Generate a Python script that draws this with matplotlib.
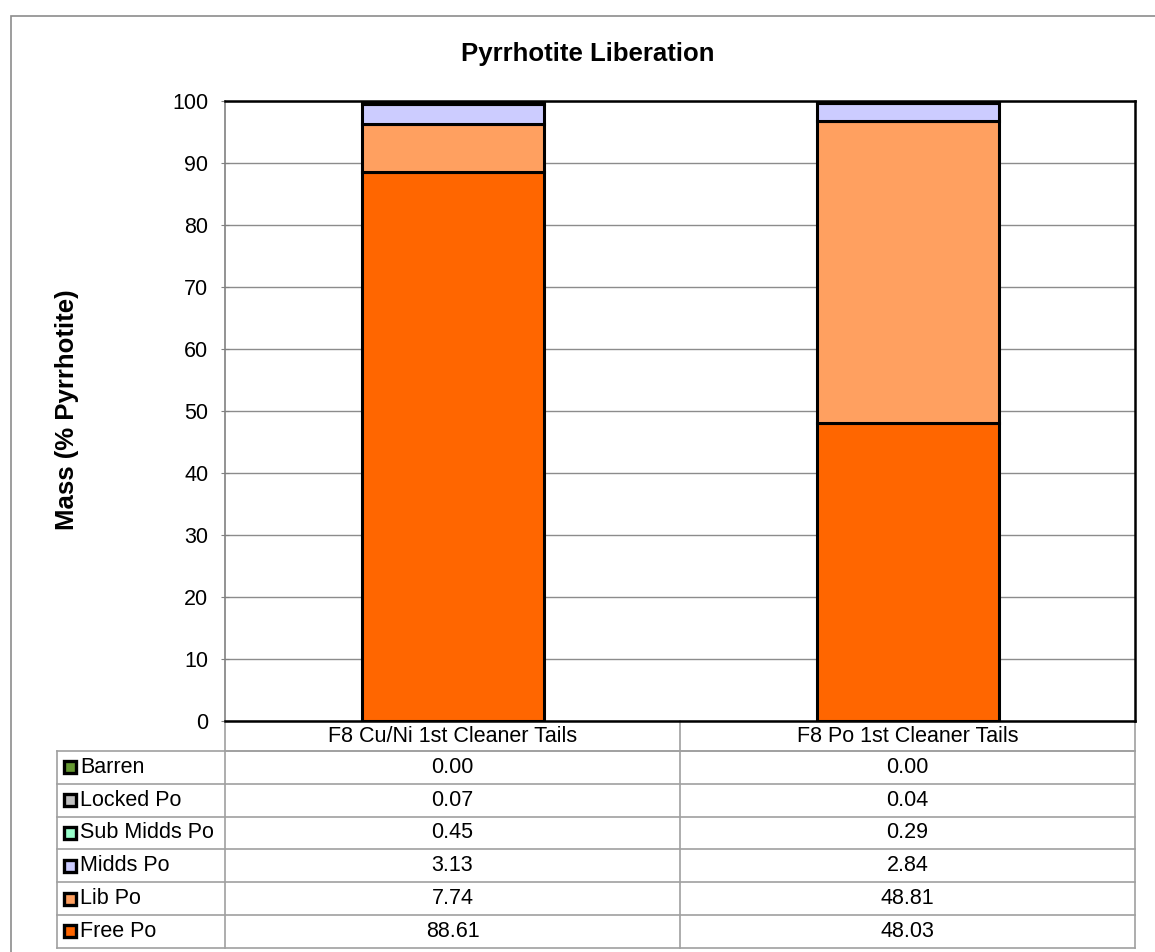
import numpy as np
import matplotlib
matplotlib.use("Agg")
import matplotlib.pyplot as plt
from matplotlib.patches import Rectangle

plt.rcParams['font.family'] = ['Liberation Sans', 'DejaVu Sans']

samples = ["F8 Cu/Ni 1st Cleaner Tails", "F8 Po 1st Cleaner Tails"]
classes = ["Free Po", "Lib Po", "Midds Po", "Sub Midds Po", "Locked Po", "Barren"]
colors = ["#FF6600", "#FFA060", "#CCCCFF", "#99FFCC", "#C0C0C0", "#669933"]
free_po = [88.61, 48.03]
lib_po = [7.74, 48.81]
midds_po = [3.13, 2.84]
sub_midds_po = [0.45, 0.29]
locked_po = [0.07, 0.04]
barren = [0.00, 0.00]
values = [free_po, lib_po, midds_po, sub_midds_po, locked_po, barren]

FS = 15.5

W, H = 1155, 952
fig = plt.figure(figsize=(W / 100, H / 100), dpi=100)

# outer chart frame
fig.patches.append(Rectangle((11 / W, -0.05), 1.2, 1 - 16 / H + 0.05,
                             transform=fig.transFigure, fill=False,
                             edgecolor="#8c8c8c", lw=1.2))

ax_l, ax_r, ax_t, ax_b = 225, 1135, 101, 721
ax = fig.add_axes([ax_l / W, 1 - ax_b / H, (ax_r - ax_l) / W, (ax_b - ax_t) / H])

x = np.arange(len(samples))
bottom = np.zeros(len(samples))
for name, col, vals in zip(classes, colors, values):
    ax.bar(x, vals, width=0.4, bottom=bottom, color=col, edgecolor="black",
           linewidth=2.2, zorder=3)
    bottom += np.array(vals)

ax.set_xlim(-0.5, 1.5)
ax.set_ylim(0, 100)
ax.set_yticks(np.arange(0, 101, 10))
ax.tick_params(axis="y", labelsize=FS, length=6, direction="inout",
               color="#808080", pad=9)
ax.set_xticks([])
ax.yaxis.grid(True, color="#8c8c8c", lw=1)
ax.set_axisbelow(True)
for s in ["top", "right", "bottom"]:
    ax.spines[s].set_color("black")
    ax.spines[s].set_linewidth(1.8)
ax.spines["left"].set_color("#808080")
ax.spines["left"].set_linewidth(1.2)

# helpers: pixel -> axes fraction
def fx(px):
    return (px - ax_l) / (ax_r - ax_l)

def fy(py):
    return (ax_b - py) / (ax_b - ax_t)

ax.set_ylabel("Mass (% Pyrrhotite)", fontsize=18.5, fontweight="bold")
ax.yaxis.set_label_coords(fx(79), fy(410))
fig.text(588 / W, 1 - 54 / H, "Pyrrhotite Liberation", ha="center", va="center",
         fontsize=18.5, fontweight="bold")

# data table below the axes
grid = "#a0a0a0"
row_h = 32.8
head_top, head_bot = 721, 751
row_edges = [head_bot + row_h * i for i in range(len(classes) + 1)]
tab_left, col_div = 57, 680
kw = dict(transform=ax.transAxes, clip_on=False, color=grid, lw=1.2)

# horizontal lines
ax.plot([fx(ax_l), fx(ax_r)], [fy(head_bot)] * 2, **kw)
for yy in row_edges:
    ax.plot([fx(tab_left), fx(ax_r)], [fy(yy)] * 2, **kw)
# vertical lines
ax.plot([fx(tab_left)] * 2, [fy(head_bot), fy(row_edges[-1])], **kw)
ax.plot([fx(ax_l)] * 2, [fy(head_top), fy(row_edges[-1])], **kw)
ax.plot([fx(col_div)] * 2, [fy(head_top), fy(row_edges[-1])], **kw)
ax.plot([fx(ax_r)] * 2, [fy(head_top), fy(row_edges[-1])], **kw)

col_centers = [(ax_l + col_div) / 2, (col_div + ax_r) / 2]
for cx, name in zip(col_centers, samples):
    ax.text(fx(cx), fy((head_top + head_bot) / 2 + 1), name, transform=ax.transAxes,
            ha="center", va="center", fontsize=FS)

# rows from top: Barren ... Free Po
for i, (name, col, vals) in enumerate(zip(classes[::-1], colors[::-1], values[::-1])):
    yc = row_edges[i] + row_h / 2
    ax.add_patch(Rectangle((fx(64), fy(yc + 6)), 12 / (ax_r - ax_l), 12 / (ax_b - ax_t),
                           transform=ax.transAxes, clip_on=False,
                           facecolor=col, edgecolor="black", lw=2.4))
    ax.text(fx(80), fy(yc), name, transform=ax.transAxes, ha="left", va="center",
            fontsize=FS)
    for cx, v in zip(col_centers, vals):
        ax.text(fx(cx), fy(yc), f"{v:.2f}", transform=ax.transAxes,
                ha="center", va="center", fontsize=FS)

fig.savefig("out.png", dpi=100)
